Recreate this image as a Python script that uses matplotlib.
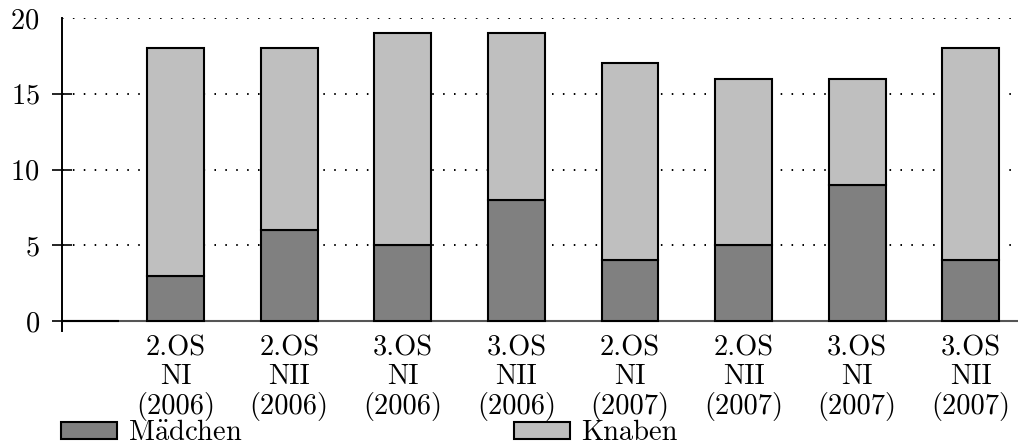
import numpy as np
import matplotlib
matplotlib.use("Agg")
import matplotlib.pyplot as plt
from matplotlib.patches import Patch

plt.rcParams['font.family'] = ['cmr10', 'DejaVu Serif']
plt.rcParams['mathtext.fontset'] = 'cm'
plt.rcParams['axes.formatter.use_mathtext'] = True

labels = ["2.OS\nNI\n(2006)", "2.OS\nNII\n(2006)", "3.OS\nNI\n(2006)", "3.OS\nNII\n(2006)",
          "2.OS\nNI\n(2007)", "2.OS\nNII\n(2007)", "3.OS\nNI\n(2007)", "3.OS\nNII\n(2007)"]
maedchen = [3, 6, 5, 8, 4, 5, 9, 4]
knaben = [15, 12, 14, 11, 13, 11, 7, 14]

dark = '#808080'
light = '#bfbfbf'
fs = 20.5

fig = plt.figure(figsize=(10.18, 4.48), dpi=100)
ax = fig.add_axes([62/1018, (448-331)/448, 956/1018, (331-18)/448])

xs = np.arange(1, len(labels) + 1)
w = 0.5

# grid + x axis line
for y in [5, 10, 15, 20]:
    ax.axhline(y, color='black', lw=1.4, ls=(0, (0.8, 4.8)), zorder=0)
ax.axhline(0, color='#555555', lw=1.5, zorder=1)

# empty first category
ax.bar([0], [0], width=w, align='edge', color=dark, edgecolor='black', lw=1.5, zorder=3)

ax.bar(xs, maedchen, width=w, color=dark, edgecolor='black', lw=1.5, zorder=3)
ax.bar(xs, knaben, width=w, bottom=maedchen, color=light, edgecolor='black', lw=1.5, zorder=3)

ax.set_xlim(0, 956/113.6)
ax.set_ylim(-0.66, 20)
ax.set_yticks([0, 5, 10, 15, 20])
ax.set_xticks(xs)
ax.set_xticklabels(labels, fontsize=fs, linespacing=1.1)
ax.tick_params(axis='x', length=0, pad=3)
ax.tick_params(axis='y', direction='inout', length=14, width=1.2, labelsize=fs, pad=9)
ax.yaxis.get_major_ticks()[-1].tick1line.set_visible(False)

for s in ['top', 'right', 'bottom']:
    ax.spines[s].set_visible(False)
ax.spines['left'].set_linewidth(1.4)

h1 = Patch(facecolor=dark, edgecolor='black', lw=1.5)
h2 = Patch(facecolor=light, edgecolor='black', lw=1.5)
leg_kw = dict(loc='center left', frameon=False, fontsize=fs, borderpad=0, borderaxespad=0,
              handlelength=1.95, handleheight=0.55, handletextpad=0.42)
fig.legend([h1], [r'$\mathrm{M\ddot{a}dchen}$'], bbox_to_anchor=(61/1018, 1 - 433/448), **leg_kw)
fig.legend([h2], ['Knaben'], bbox_to_anchor=(514/1018, 1 - 433/448), **leg_kw)

fig.savefig('out.png', dpi=100)
